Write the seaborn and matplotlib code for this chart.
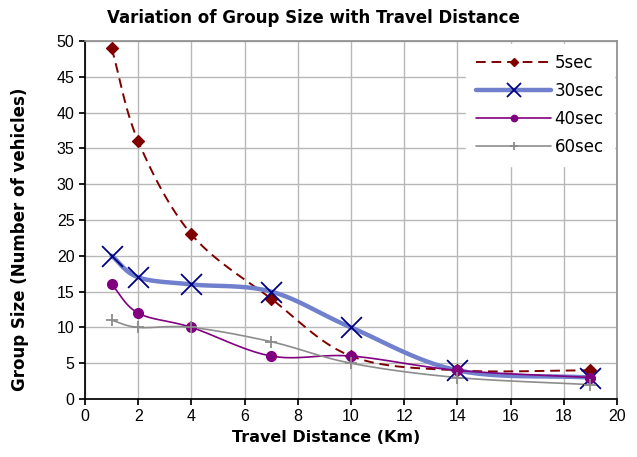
import numpy as np
import pandas as pd
import matplotlib
matplotlib.use("Agg")
import matplotlib.pyplot as plt
import seaborn as sns
from matplotlib.lines import Line2D

distance = [1, 2, 4, 7, 10, 14, 19]
s5 = [49, 36, 23, 14, 6, 4, 4]
s30 = [20, 17, 16, 15, 10, 4, 3]
s40 = [16, 12, 10, 6, 6, 4, 3]
s60 = [11, 10, 10, 8, 5, 3, 2]
series_names = ["5sec", "30sec", "40sec", "60sec"]
x_ticks = list(range(0, 21, 2))
y_ticks = list(range(0, 51, 5))

sns.set_theme(style="white")
plt.rcParams['font.family'] = ['Liberation Sans', 'DejaVu Sans']
plt.rcParams['text.color'] = 'black'
plt.rcParams['axes.labelcolor'] = 'black'


def smooth(x, y, n=20):
    # Catmull-Rom rendering of the line between data points (Excel smoothed line look)
    x = np.asarray(x, float); y = np.asarray(y, float)
    px = np.concatenate([[2 * x[0] - x[1]], x, [2 * x[-1] - x[-2]]])
    py = np.concatenate([[2 * y[0] - y[1]], y, [2 * y[-1] - y[-2]]])
    xs, ys = [], []
    for i in range(1, len(px) - 2):
        t = np.linspace(0, 1, n, endpoint=False)
        for arr, out in ((px, xs), (py, ys)):
            p0, p1, p2, p3 = arr[i - 1], arr[i], arr[i + 1], arr[i + 2]
            out.extend(0.5 * ((2 * p1) + (-p0 + p2) * t + (2 * p0 - 5 * p1 + 4 * p2 - p3) * t ** 2
                              + (-p0 + 3 * p1 - 3 * p2 + p3) * t ** 3))
    xs.append(x[-1]); ys.append(y[-1])
    return np.array(xs), np.array(ys)


fig = plt.figure(figsize=(6.37, 4.57), dpi=100)
ax = fig.add_axes([85 / 637, 1 - 399 / 457, (617 - 85) / 637, (399 - 41) / 457])

styles = {
    "5sec": dict(color="#800000", ls=(0, (5, 3)), lw=1.4, marker="D", ms=6, mc="#800000", mew=1),
    "30sec": dict(color="#7080cc", ls="-", lw=3.2, marker="x", ms=15, mc="#000080", mew=1.3),
    "40sec": dict(color="#800080", ls="-", lw=1.2, marker="o", ms=7, mc="#800080", mew=1),
    "60sec": dict(color="#8c8c8c", ls="-", lw=1.2, marker="+", ms=8, mc="#8c8c8c", mew=1.3),
}
data = {"5sec": s5, "30sec": s30, "40sec": s40, "60sec": s60}
handles = []
for name in series_names:
    st = styles[name]
    sx, sy = smooth(distance, data[name])
    sns.lineplot(x=sx, y=sy, ax=ax, color=st["color"], linestyle=st["ls"], lw=st["lw"],
                 sort=False, estimator=None)
    sns.scatterplot(x=distance, y=data[name], ax=ax, marker=st["marker"], s=st["ms"] ** 2,
                    color=st["mc"], edgecolor=st["mc"] if st["marker"] in ("D", "o") else None,
                    linewidth=st["mew"], zorder=5)
    handles.append(Line2D([], [], color=st["color"], ls=st["ls"], lw=st["lw"], marker=st["marker"],
                          ms=st["ms"] * 0.65, mfc=st["mc"], mec=st["mc"], mew=st["mew"]))

ax.set_xlim(0, 20)
ax.set_ylim(0, 50)
ax.set_xticks(x_ticks)
ax.set_yticks(y_ticks)
ax.tick_params(axis="both", labelsize=11.5, length=4, direction="out", colors="black", bottom=True, left=True)
ax.grid(True, color="#b8b8b8", lw=1)
for s in ax.spines.values():
    s.set_color("#909090")
ax.spines["left"].set_color("black")
ax.spines["bottom"].set_color("black")

ax.set_xlabel("Travel Distance (Km)", fontsize=11.5, fontweight="bold", family=["DejaVu Sans"])
ax.xaxis.set_label_coords((326 - 85) / (617 - 85), (399 - 437) / (399 - 41), transform=ax.transAxes)
ax.xaxis.label.set_va("center")
ax.set_ylabel("Group Size (Number of vehicles)", fontsize=12, fontweight="bold",
              family=["DejaVu Sans"])
ax.yaxis.set_label_coords(-0.105, (399 - 239) / (399 - 41))
fig.text(313 / 637, 1 - 18 / 457, "Variation of Group Size with Travel Distance", fontsize=12,
         fontweight="bold", family=["DejaVu Sans"], ha="center", va="center")

leg = ax.legend(handles, series_names, loc="upper right", frameon=True, fancybox=False,
                framealpha=1, edgecolor="white", handlelength=4.5, handletextpad=0.2,
                borderaxespad=0.2, labelspacing=0.6, borderpad=0.6,
                prop={"family": ["DejaVu Sans"], "size": 12})

fig.savefig("out.png", dpi=100)
